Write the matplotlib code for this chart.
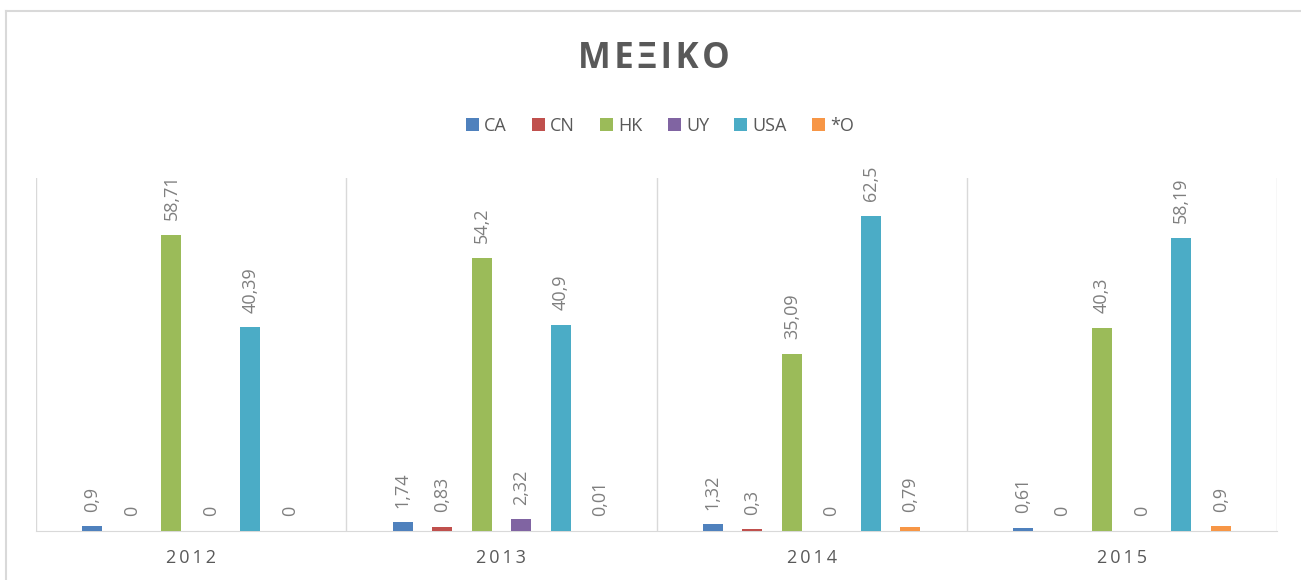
import matplotlib.pyplot as plt
from matplotlib.lines import Line2D
import numpy as np

# data
years = ['2012', '2013', '2014', '2015']
series = ['CA', 'CN', 'HK', 'UY', 'USA', '*O']
ca = [0.9, 1.74, 1.32, 0.61]
cn = [0, 0.83, 0.3, 0]
hk = [58.71, 54.2, 35.09, 40.3]
uy = [0, 2.32, 0, 0]
usa = [40.39, 40.9, 62.5, 58.19]
other = [0, 0.01, 0.79, 0.9]
values = [ca, cn, hk, uy, usa, other]
colors = ['#4F81BD', '#C0504D', '#9BBB59', '#8064A2', '#4BACC6', '#F79646']

plt.rcParams['font.family'] = ['Open Sans', 'DejaVu Sans']

fig = plt.figure(figsize=(13.01, 5.80), dpi=100)
ax = fig.add_axes([36/1301, 1-531/580, (1277-36)/1301, (531-178)/580])

x = np.arange(len(years))
slot = 0.1274
width = 0.0645
for i, (name, vals) in enumerate(zip(series, values)):
    pos = x + (i - 2.5) * slot
    ax.bar(pos, vals, width, color=colors[i], label=name, zorder=3)
    for p, v in zip(pos, vals):
        lab = f'{v:g}'.replace('.', ',')
        ax.annotate(lab, (p, v), xytext=(0, 10.5), textcoords='offset points',
                    rotation=90, ha='center', va='bottom',
                    fontsize=13, color='#7F7F7F')

ax.set_xlim(-0.5, 3.5)
ax.set_ylim(0, 70)
for b in np.arange(-0.5, 4, 1):
    ax.axvline(b, color='#D9D9D9', lw=1, zorder=1)
for s in ['top', 'left', 'right']:
    ax.spines[s].set_visible(False)
ax.spines['bottom'].set_color('#D9D9D9')
ax.set_yticks([])
ax.set_xticks(x)
ax.set_xticklabels(['\u2009'.join(y) for y in years], fontsize=13, color='#595959')
ax.tick_params(axis='x', length=0, pad=13)

fig.text(654/1301, 1-59/580, '\u200a'.join('ΜΕΞΙΚΟ'), ha='center', va='center', fontsize=25,
         fontweight='bold', color='#595959')

fig.legend(loc='center', bbox_to_anchor=(660/1301, 1-126/580), ncol=6, frameon=False,
           handlelength=0.7, handleheight=0.7, handletextpad=0.3, columnspacing=1.4,
           fontsize=13, labelcolor='#595959')

# outer chart border
fig.add_artist(Line2D([6/1301, 6/1301], [0, 1-11/580], color='#D9D9D9', lw=1.5))
fig.add_artist(Line2D([6/1301, 1], [1-11/580, 1-11/580], color='#D9D9D9', lw=1.5))

fig.savefig('out.png', dpi=100)
